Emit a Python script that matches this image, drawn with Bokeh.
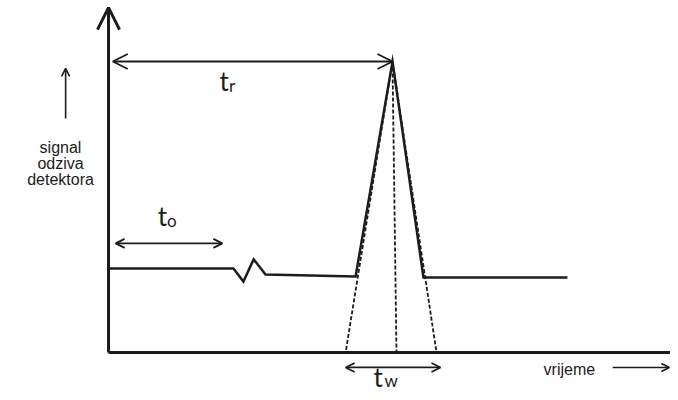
from bokeh.plotting import figure
from bokeh.models import Range1d, Arrow, OpenHead
from bokeh.core.properties import value
from bokeh.embed import file_html
from bokeh.resources import INLINE

# ---- schematic data (time units, signal units) ----
trace_t = [0, 44.0, 47.5, 51.1, 55.3, 87.0, 100.0, 110.9, 161.6]
trace_s = [28.9, 28.9, 24.4, 32.0, 26.8, 26.1, 100.0, 25.8, 25.8]

t_r = 100.0          # retention time (peak apex)
peak_h = 100.0       # peak height
tw_left = 83.5       # tangent intersections with baseline
tw_right = 115.5
center_foot = 101.4

axis_top = 118.5
axis_right = 203.0

t_o_start, t_o_end, t_o_level = 2.5, 40.1, 37.5
tr_start = 1.5
tw_arrow = (83.5, 116.9, -5.15)
time_arrow = (177.5, 197.5, -5.15)
signal_arrow = (-15.1, 80.4, 97.6)

signal_lines = ["signal", "odziva", "detektora"]
signal_line_y = [70.3, 64.8, 59.3]
signal_label_x = -16.9

INK = "#1c1c1c"

p = figure(width=670, height=392, output_backend="svg", toolbar_location=None,
           x_range=Range1d(-38.03, 197.89), y_range=Range1d(-13.75, 120.96),
           min_border=0, outline_line_color=None, background_fill_color="white",
           border_fill_color="white")
p.axis.visible = False
p.grid.visible = False

# axes
p.line([0, 0], [0, axis_top], line_width=3, line_color=INK)
p.line([0, axis_right], [0, 0], line_width=3, line_color=INK)
p.add_layout(Arrow(end=OpenHead(size=22, line_width=3, line_color=INK),
                   x_start=0, y_start=axis_top - 5, x_end=0, y_end=axis_top,
                   line_width=3, line_color=INK))

# dashed tangents and centre line
p.line([t_r, tw_left], [peak_h, 0], line_width=1.8, line_color=INK, line_dash="4 2")
p.line([t_r, tw_right], [peak_h, 0], line_width=1.8, line_color=INK, line_dash="4 2")
p.line([t_r, center_foot], [peak_h, 0], line_width=1.8, line_color=INK, line_dash="4 2")

# detector trace
p.line(trace_t, trace_s, line_width=2.5, line_color=INK, line_join="miter")

# t_r arrow
p.add_layout(Arrow(start=OpenHead(size=15, line_width=1.8, line_color=INK),
                   end=OpenHead(size=15, line_width=1.8, line_color=INK),
                   x_start=tr_start, y_start=peak_h, x_end=t_r, y_end=peak_h,
                   line_width=1.8, line_color=INK))
# t_o arrow
p.add_layout(Arrow(start=OpenHead(size=9, line_width=1.8, line_color=INK),
                   end=OpenHead(size=9, line_width=1.8, line_color=INK),
                   x_start=t_o_start, y_start=t_o_level, x_end=t_o_end, y_end=t_o_level,
                   line_width=1.8, line_color=INK))
# t_w arrow
p.add_layout(Arrow(start=OpenHead(size=9, line_width=1.8, line_color=INK),
                   end=OpenHead(size=9, line_width=1.8, line_color=INK),
                   x_start=tw_arrow[0], y_start=tw_arrow[2], x_end=tw_arrow[1], y_end=tw_arrow[2],
                   line_width=1.8, line_color=INK))
# time arrow
p.add_layout(Arrow(end=OpenHead(size=8, line_width=1.5, line_color=INK),
                   x_start=time_arrow[0], y_start=time_arrow[2], x_end=time_arrow[1], y_end=time_arrow[2],
                   line_width=1.5, line_color=INK))
# signal arrow
p.add_layout(Arrow(end=OpenHead(size=8, line_width=1.6, line_color=INK),
                   x_start=signal_arrow[0], y_start=signal_arrow[1], x_end=signal_arrow[0], y_end=signal_arrow[2],
                   line_width=1.6, line_color=INK))

# big "t" labels with subscripts
big_x = [39.1, 17.3, 93.3]
big_y = [93.26, 46.86, -8.42]
sub_x = [42.4, 20.6, 97.2]
sub_y = [91.76, 45.36, -9.62]
subs = ["r", "o", "w"]
p.text(big_x, big_y, text=["t", "t", "t"], text_font=value("Lato"), text_font_size="26px",
       text_color=INK, text_baseline="alphabetic", text_align="left")
p.text(sub_x, sub_y, text=subs, text_font=value("Lato"), text_font_size="17px",
       text_color=INK, text_baseline="alphabetic", text_align="left")

# left label
p.text([signal_label_x] * 3, signal_line_y, text=signal_lines, text_font=value("Liberation Sans"),
       text_font_size="16px", text_color=INK, text_baseline="alphabetic", text_align="center")
# time label
p.text([153.2], [-6.0], text=["vrijeme"], text_font=value("Liberation Sans"),
       text_font_size="16px", text_color=INK, text_baseline="alphabetic", text_align="left")

open("out.html", "w").write(file_html(p, INLINE))
